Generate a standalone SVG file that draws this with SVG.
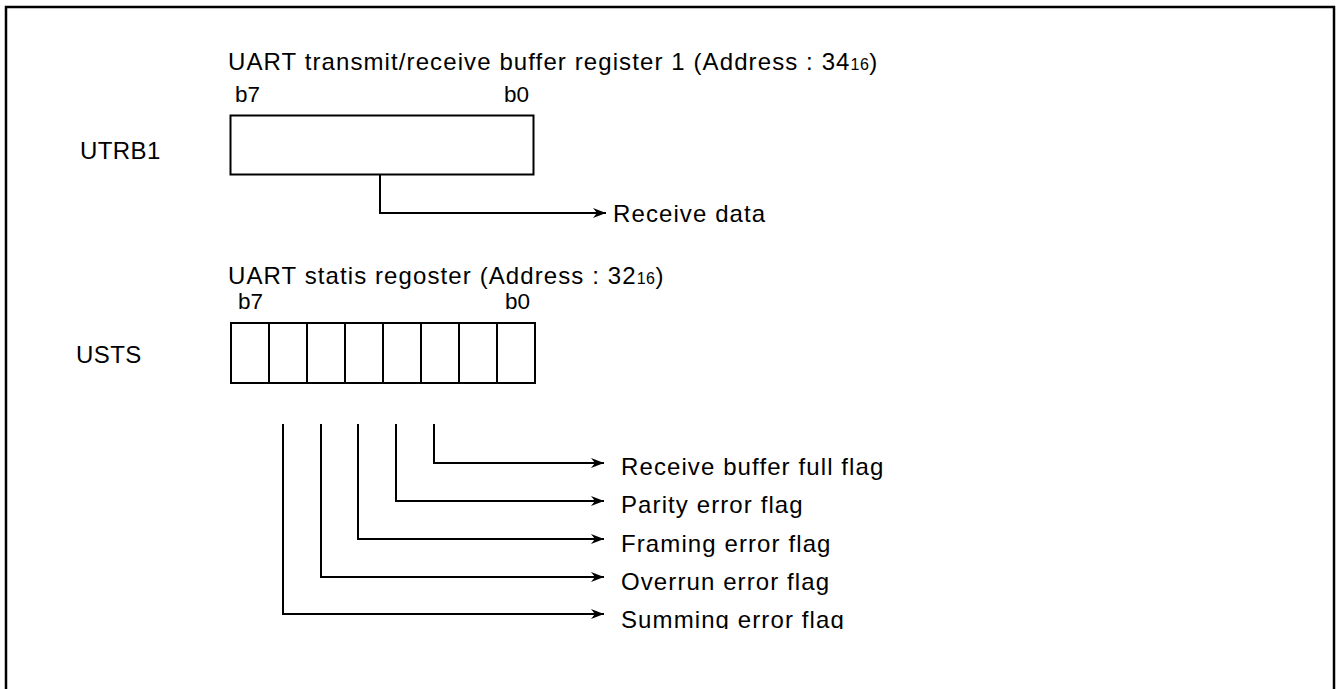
<svg xmlns="http://www.w3.org/2000/svg" width="1340" height="689" viewBox="0 0 1340 689">
<style>
text{font-family:"Liberation Sans",Arial,sans-serif;fill:#000}
.t{font-size:24px;letter-spacing:1.1px}
.lbl{font-size:24px;letter-spacing:0.4px}
.s{font-size:22.5px}
.sub{font-size:16px;letter-spacing:0.5px}
.box{fill:none;stroke:#000;stroke-width:2}
.ln{fill:none;stroke:#000;stroke-width:2}
</style>
<defs>
<marker id="ah" viewBox="0 0 13 11" refX="13" refY="5.5" markerWidth="13" markerHeight="11" markerUnits="userSpaceOnUse" orient="auto">
<path d="M0,0.5 L13,5.5 L0,10.5 L4,5.5 Z" fill="#000"/>
</marker>
<clipPath id="clip"><rect x="0" y="0" width="1340" height="629"/></clipPath>
</defs>
<rect x="6" y="7" width="1328" height="700" fill="#fff" stroke="#000" stroke-width="2.5"/>
<g id="utrb1">
<text class="t" x="228" y="70">UART transmit/receive buffer register 1 (Address : 34<tspan class="sub">16</tspan>)</text>
<text class="s" x="235" y="102">b7</text>
<text class="s" x="504" y="102">b0</text>
<text class="lbl" x="80" y="159">UTRB1</text>
<rect class="box" x="230.5" y="115.5" width="303" height="59"/>
</g>
<g id="receive-data">
<text class="t" x="613" y="222">Receive data</text>
</g>
<g id="usts">
<text class="t" x="228" y="284">UART statis regoster (Address : 32<tspan class="sub">16</tspan>)</text>
<text class="s" x="238" y="309">b7</text>
<text class="s" x="505" y="309">b0</text>
<text class="lbl" x="76" y="363">USTS</text>
<rect class="box" x="231" y="323" width="304" height="60"/>
<path class="box" d="M269,323V383M307,323V383M345,323V383M383,323V383M421,323V383M459,323V383M497,323V383"/>
</g>
<g id="flags" clip-path="url(#clip)">
<text class="t" x="621" y="475">Receive buffer full flag</text>
<text class="t" x="621" y="513">Parity error flag</text>
<text class="t" x="621" y="552">Framing error flag</text>
<text class="t" x="621" y="590">Overrun error flag</text>
<text class="t" x="621" y="628">Summing error flag</text>
</g>
<g id="connectors">
<path class="ln" d="M380,175V213H606" marker-end="url(#ah)"/>
<path class="ln" d="M434,424V463H604" marker-end="url(#ah)"/>
<path class="ln" d="M396,424V501H604" marker-end="url(#ah)"/>
<path class="ln" d="M358,424V539H604" marker-end="url(#ah)"/>
<path class="ln" d="M321,424V577H604" marker-end="url(#ah)"/>
<path class="ln" d="M283,424V614H604" marker-end="url(#ah)"/>
</g>
</svg>
